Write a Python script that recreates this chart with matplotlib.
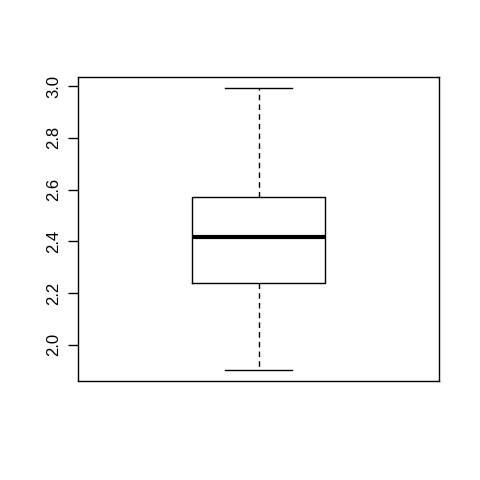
"""R-style single boxplot, redrawn with matplotlib."""
import matplotlib
matplotlib.use("Agg")
import matplotlib.pyplot as plt

# five-number summary
WHISKER_LO = 1.903
Q1 = 2.240
MEDIAN = 2.415
Q3 = 2.570
WHISKER_HI = 2.992
YTICKS = [2.0, 2.2, 2.4, 2.6, 2.8, 3.0]
YTICK_LABELS = ["2.0", "2.2", "2.4", "2.6", "2.8", "3.0"]

plt.rcParams["font.family"] = ["Liberation Sans", "DejaVu Sans"]

fig = plt.figure(figsize=(4.8, 4.8), dpi=100)
ax = fig.add_axes([78 / 480, 99 / 480, 361 / 480, 304 / 480])

stats = [{"whislo": WHISKER_LO, "q1": Q1, "med": MEDIAN, "q3": Q3,
          "whishi": WHISKER_HI, "fliers": []}]
ax.bxp(stats, positions=[1], widths=0.4, showfliers=False,
       boxprops=dict(color="black", linewidth=1),
       medianprops=dict(color="black", linewidth=3, solid_capstyle="butt"),
       whiskerprops=dict(color="black", linewidth=1, linestyle=(0, (4, 3))),
       capprops=dict(color="black", linewidth=1), capwidths=0.2)

span = WHISKER_HI - WHISKER_LO
ax.set_ylim(WHISKER_LO - 0.04 * span, WHISKER_HI + 0.04 * span)
ax.set_xlim(0.46, 1.54)
ax.set_xticks([])
ax.set_yticks(YTICKS)
ax.set_yticklabels(YTICK_LABELS, rotation=90, va="center", fontsize=12)
ax.tick_params(axis="y", length=7, width=1, pad=5)
for s in ax.spines.values():
    s.set_linewidth(1)

fig.savefig("out.png", dpi=100)
